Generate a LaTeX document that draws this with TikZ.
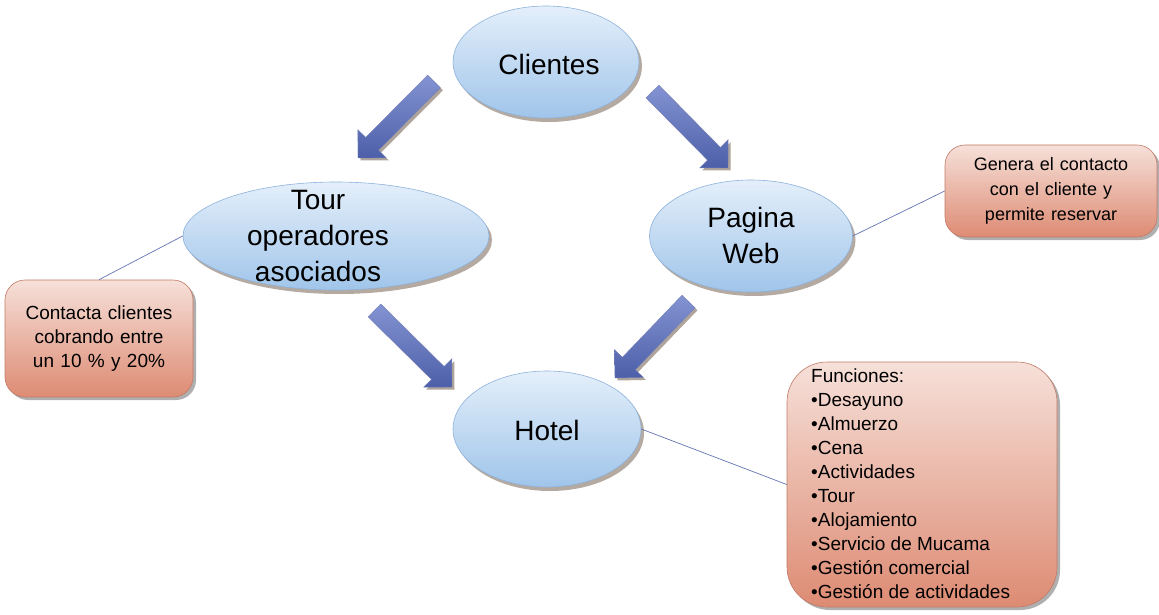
\documentclass[tikz,border=0pt]{standalone}
\usepackage{fontspec}
\setmainfont{Liberation Sans}
\usetikzlibrary{calc,shapes.geometric,shadows}

\definecolor{bubbletop}{HTML}{E4EFFA}
\definecolor{bubblebot}{HTML}{A0C5EA}
\definecolor{bubbleedge}{HTML}{8EB2DC}
\definecolor{notetop}{HTML}{F6E0D9}
\definecolor{notebot}{HTML}{DD8B73}
\definecolor{noteedge}{HTML}{C27A66}
\definecolor{shadowbrown}{HTML}{9C8E82}
\definecolor{shadowgray}{HTML}{8E8E8E}
\definecolor{arrowtop}{HTML}{8393D2}
\definecolor{arrowbot}{HTML}{4D5FA8}
\definecolor{linkcol}{HTML}{6474B4}

% block arrow from tail #1 to tip #2: shaft 18pt wide, head 40pt wide, 20pt long
\newcommand\blockarrow[2]{%
  \coordinate (ba-base) at ($(#2)!20pt!(#1)$);
  \begin{scope}[transform canvas={shift={(2.5pt,-2.5pt)}}]
    \fill[shadowbrown, opacity=0.8]
      ($(#1)!9pt!90:(#2)$) -- ($(ba-base)!9pt!90:(#2)$) -- ($(ba-base)!20pt!90:(#2)$)
      -- (#2) -- ($(ba-base)!20pt!-90:(#2)$) -- ($(ba-base)!9pt!-90:(#2)$)
      -- ($(#1)!9pt!-90:(#2)$) -- cycle;
  \end{scope}
  \path[top color=arrowtop, bottom color=arrowbot, draw=arrowbot!80, line width=0.4pt]
      ($(#1)!9pt!90:(#2)$) -- ($(ba-base)!9pt!90:(#2)$) -- ($(ba-base)!20pt!90:(#2)$)
      -- (#2) -- ($(ba-base)!20pt!-90:(#2)$) -- ($(ba-base)!9pt!-90:(#2)$)
      -- ($(#1)!9pt!-90:(#2)$) -- cycle;
}

\begin{document}
\begin{tikzpicture}[x=1pt,y=-1pt,
  bubble/.style={ellipse, draw=bubbleedge, line width=0.6pt,
    top color=bubbletop, bottom color=bubblebot, inner sep=0pt,
    drop shadow={shadow xshift=3pt, shadow yshift=-4pt, fill=shadowbrown, opacity=0.75}},
  bubbletext/.style={align=center, inner sep=0pt, font=\fontsize{28pt}{36pt}\selectfont},
  note/.style={rectangle, rounded corners=20pt, draw=noteedge, line width=0.6pt,
    top color=notetop, bottom color=notebot, inner sep=0pt,
    font=\fontsize{19pt}{24pt}\selectfont,
    drop shadow={shadow xshift=3pt, shadow yshift=-3pt, fill=shadowgray, opacity=0.7}},
  link/.style={draw=linkcol, line width=0.7pt}
]
\useasboundingbox (0,0) rectangle (1159,615);
\fill[white] (0,0) rectangle (1159,615);

% ellipses
\node[bubble, minimum width=186pt, minimum height=112pt] (cli) at (546,62) {};
\node[bubbletext] (clit) at (549,64) {Clientes};

\node[bubble, minimum width=306pt, minimum height=108pt] (tour) at (336,236) {};
\node[bubbletext] (tourt) at (318,236) {Tour\\operadores\\asociados};

\node[bubble, minimum width=203pt, minimum height=112pt] (web) at (751,236) {};
\node[bubbletext] (webt) at (751,235) {Pagina\\Web};

\node[bubble, minimum width=188pt, minimum height=116pt] (hotel) at (547,429) {};
\node[bubbletext] (hotelt) at (547,430) {Hotel};

% notes
\node[note, minimum width=188pt, minimum height=117pt, text width=182pt, align=center]
  (n1) at (99,338.5) {Contacta clientes\\cobrando entre\\un 10 \% y 20\%};
\node[note, minimum width=212pt, minimum height=92pt, text width=204pt, align=center,
  font=\fontsize{18pt}{25pt}\selectfont]
  (n2) at (1051,191) {Genera el contacto\\con el cliente y\\permite reservar};
\node[note, rounded corners=40pt, minimum width=270pt, minimum height=245pt] (n3) at (922,484.5) {};
\node[anchor=north west, inner sep=0pt, align=left, font=\fontsize{19pt}{24pt}\selectfont]
  (n3t) at (811,369) {Funciones:\\•Desayuno\\•Almuerzo\\•Cena\\•Actividades\\•Tour\\•Alojamiento\\•Servicio de Mucama\\•Gestión comercial\\•Gestión de actividades};

% connector lines
\draw[link] (tour.west) -- (n1.north);
\draw[link] (web.east) -- (n2.west);
\draw[link] (hotel.east) -- (n3.west);

% block arrows
\coordinate (a1t) at (434,81.5);   \coordinate (a1h) at (358,158);
\coordinate (a2t) at (652.5,91.5); \coordinate (a2h) at (728,168);
\coordinate (a3t) at (374.5,310.5);\coordinate (a3h) at (452,387);
\coordinate (a4t) at (688.5,301.5);\coordinate (a4h) at (615,378);
\blockarrow{a1t}{a1h}
\blockarrow{a2t}{a2h}
\blockarrow{a3t}{a3h}
\blockarrow{a4t}{a4h}
\end{tikzpicture}
\end{document}
